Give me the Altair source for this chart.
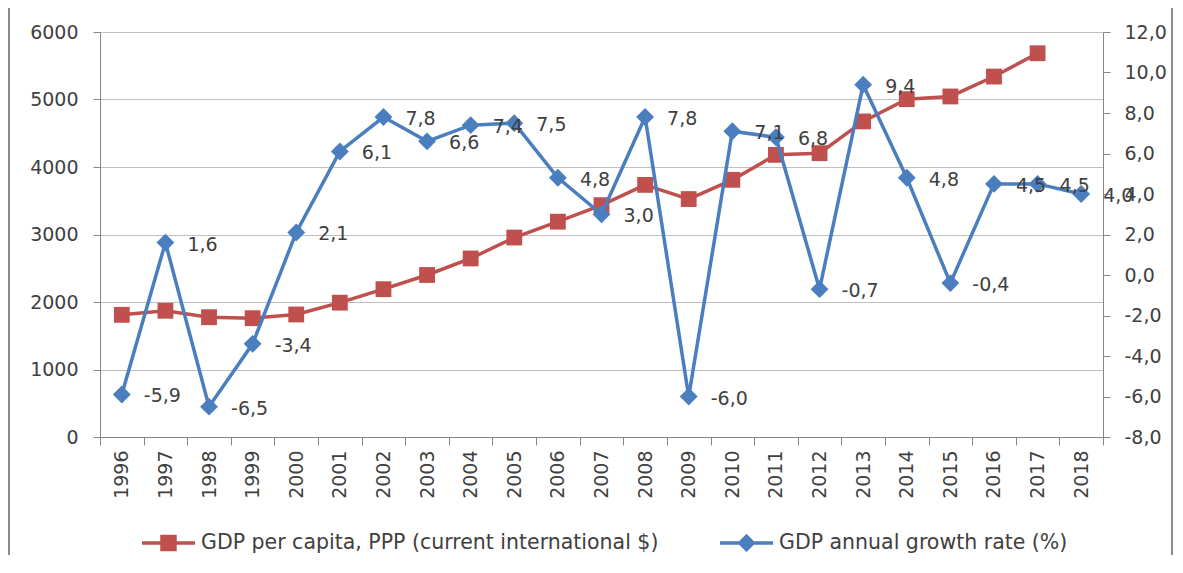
import altair as alt
import pandas as pd

years = [str(y) for y in range(1996, 2019)]
gdp_pc = [1810, 1870, 1775, 1760, 1815, 1990, 2190, 2400, 2645, 2955, 3190,
          3435, 3735, 3525, 3810, 4180, 4205, 4675, 5005, 5045, 5340, 5685, None]
growth = [-5.9, 1.6, -6.5, -3.4, 2.1, 6.1, 7.8, 6.6, 7.4, 7.5, 4.8, 3.0,
          7.8, -6.0, 7.1, 6.8, -0.7, 9.4, 4.8, -0.4, 4.5, 4.5, 4.0]
series = ["GDP per capita, PPP (current international $)", "GDP annual growth rate (%)"]
left_ticks = [0, 1000, 2000, 3000, 4000, 5000, 6000]
right_ticks = [-8, -6, -4, -2, 0, 2, 4, 6, 8, 10, 12]

RED = "#C0504D"
BLUE = "#4A7EBF"
TXT = "#404040"
FONT = "DejaVu Sans"
AX = 19

df = pd.DataFrame({"year": years, "gdp": gdp_pc, "growth": growth})
df["lab"] = [f"{v:.1f}".replace(".", ",") for v in growth]
legend_df = pd.DataFrame({"series": series})

x = alt.X("year:N", title=None, sort=years,
          scale=alt.Scale(type="band", paddingInner=0, paddingOuter=0),
          axis=alt.Axis(labelAngle=270, tickBand="extent", tickSize=8, labelPadding=5,
                        grid=False, domainColor="#868686", tickColor="#868686",
                        labelColor=TXT, labelFontSize=AX, labelFont=FONT))

y_left = alt.Y("gdp:Q", title=None,
               scale=alt.Scale(domain=[0, 6000], nice=False, zero=False),
               axis=alt.Axis(values=left_ticks, format="d", grid=True, gridColor="#BFBFBF",
                             domainColor="#868686", tickColor="#868686", tickSize=7,
                             labelPadding=15, labelColor=TXT, labelFontSize=AX,
                             labelFont=FONT, orient="left"))
y_left_plain = alt.Y("gdp:Q", scale=alt.Scale(domain=[0, 6000], nice=False, zero=False))

y_right = alt.Y("growth:Q", title=None,
                scale=alt.Scale(domain=[-8, 12], nice=False, zero=False),
                axis=alt.Axis(values=right_ticks, grid=False, orient="right",
                              domainColor="#868686", tickColor="#868686", tickSize=7,
                              labelPadding=14, labelColor=TXT, labelFontSize=AX,
                              labelFont=FONT,
                              labelExpr="replace(replace(format(datum.value, '.1f'), '.', ','), '\u2212', '-')"))
y_right_plain = alt.Y("growth:Q", scale=alt.Scale(domain=[-8, 12], nice=False, zero=False))

base = alt.Chart(df)

red_line = base.mark_line(color=RED, strokeWidth=3.5).encode(x=x, y=y_left)
red_pts = base.mark_point(shape="square", filled=True, color=RED, size=250, opacity=1).encode(
    x=x, y=y_left_plain)
red = alt.layer(red_line, red_pts)

blue_line = base.mark_line(color=BLUE, strokeWidth=3.5).encode(x=x, y=y_right)
blue_pts = base.mark_point(shape="diamond", filled=True, color=BLUE, size=320, opacity=1).encode(
    x=x, y=y_right_plain)
blue_txt = base.mark_text(align="left", baseline="middle", dx=22, dy=2, fontSize=AX, font=FONT,
                          color=TXT).encode(x=x, y=y_right_plain, text="lab:N")
blue = alt.layer(blue_line, blue_pts, blue_txt)

sq_path = "M-1,0H1M-0.245,-0.245H0.245V0.245H-0.245Z"
dm_path = "M-1,0H1M0,-0.25L0.25,0L0,0.25L-0.25,0Z"
leg_scale_c = alt.Scale(domain=series, range=[RED, BLUE])
leg_scale_s = alt.Scale(domain=series, range=[sq_path, dm_path])
legend = alt.Legend(title=None, orient="none", direction="horizontal", legendX=40, legendY=482,
                    symbolSize=2809, symbolStrokeWidth=3.5, symbolOpacity=1, labelOffset=4,
                    labelFontSize=20.5, labelFont=FONT, labelColor=TXT, labelLimit=800,
                    columnPadding=54, padding=0)
leg_layer = alt.Chart(legend_df).mark_point(filled=True, opacity=0).encode(
    fill=alt.Fill("series:N", scale=leg_scale_c, legend=legend, sort=series),
    stroke=alt.Stroke("series:N", scale=leg_scale_c, legend=legend, sort=series),
    shape=alt.Shape("series:N", scale=leg_scale_s, legend=legend, sort=series),
)

# outer chart frame (decorative border as in the reference)
frame = alt.Chart(legend_df).mark_rect(fill=None, stroke="#8C8C8C", strokeWidth=2).encode(
    x=alt.value(-91), x2=alt.value(1072), y=alt.value(-26), y2=alt.value(560))

chart = alt.layer(frame, red, blue, leg_layer).resolve_scale(y="independent").properties(
    width=1003, height=405,
    autosize=alt.AutoSizeParams(type="none"),
    padding={"left": 92, "top": 24, "right": 72, "bottom": 118},
).configure_view(stroke=None).configure(background="white")

chart.save("out.html", embed_options={"renderer": "svg", "actions": False})
